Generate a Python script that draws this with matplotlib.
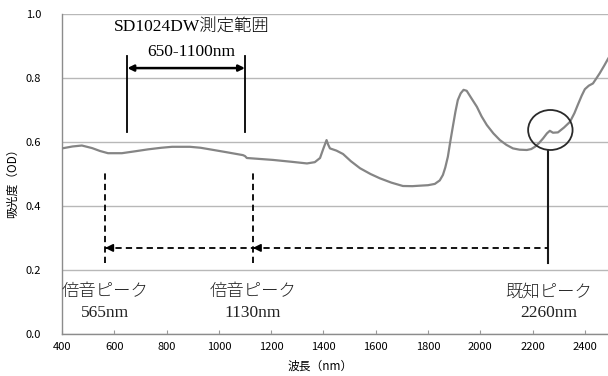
import matplotlib
matplotlib.use("Agg")
import matplotlib.pyplot as plt
from matplotlib.patches import Ellipse

plt.rcParams['lines.scale_dashes'] = False

# Absorbance spectrum
wavelength = [400, 440, 476, 515, 545, 576, 629, 680, 729, 780, 821, 889, 930, 966,
              1030, 1092, 1100, 1107, 1207, 1280, 1337, 1367, 1387, 1400, 1412, 1418,
              1425, 1450, 1475, 1505, 1540, 1580, 1616, 1660, 1704, 1740, 1769, 1800,
              1826, 1845, 1857, 1866, 1876, 1885, 1895, 1905, 1914, 1925, 1936, 1948,
              1965, 1987, 2005, 2025, 2050, 2075, 2100, 2125, 2150, 2178, 2195, 2209,
              2225, 2240, 2255, 2266, 2278, 2297, 2320, 2343, 2360, 2373, 2388, 2400,
              2415, 2431, 2445, 2457, 2475, 2488, 2500]
absorbance = [0.580, 0.586, 0.589, 0.581, 0.572, 0.565, 0.565, 0.571, 0.577, 0.582,
              0.585, 0.585, 0.582, 0.577, 0.568, 0.559, 0.556, 0.550, 0.544, 0.538,
              0.533, 0.537, 0.550, 0.580, 0.606, 0.592, 0.580, 0.573, 0.5625, 0.540,
              0.518, 0.500, 0.4865, 0.473, 0.4625, 0.462, 0.4635, 0.465, 0.469, 0.480,
              0.497, 0.520, 0.554, 0.600, 0.648, 0.695, 0.731, 0.752, 0.763, 0.760,
              0.738, 0.710, 0.680, 0.653, 0.627, 0.606, 0.591, 0.580, 0.576, 0.575,
              0.578, 0.585, 0.597, 0.611, 0.627, 0.635, 0.629, 0.630, 0.645, 0.663,
              0.690, 0.716, 0.745, 0.765, 0.776, 0.783, 0.800, 0.815, 0.840, 0.859,
              0.875]

x_ticks = [400, 600, 800, 1000, 1200, 1400, 1600, 1800, 2000, 2200, 2400]
y_ticks = [0.0, 0.2, 0.4, 0.6, 0.8, 1.0]

range_lo, range_hi = 650, 1100      # SD1024DW measuring range (nm)
known_peak = 2260                   # known absorption peak (nm)
overtone_1 = 1130                   # 2nd overtone (nm)
overtone_2 = 565                    # 3rd overtone (nm)

serif_jp = ['Liberation Serif', 'Noto Sans CJK JP']
gothic = ['Noto Sans CJK JP', 'DejaVu Sans']

fig = plt.figure(figsize=(6.08, 3.76), dpi=100)
ax = fig.add_axes([62 / 608, 42 / 376, 549 / 608, 320 / 376])

ax.plot(wavelength, absorbance, color='#858585', lw=1.6, zorder=3, solid_joinstyle='round')

ax.set_xlim(400, 2500)
ax.set_ylim(0, 1.0)
ax.set_xticks(x_ticks)
ax.set_yticks(y_ticks)
ax.set_xticklabels([str(t) for t in x_ticks], family=gothic, fontsize=8)
ax.set_yticklabels([f"{t:.1f}" for t in y_ticks], family=gothic, fontsize=8)
ax.tick_params(axis='x', direction='in', length=3, color='#999999', pad=6)
ax.tick_params(axis='y', length=0, pad=15)
ax.grid(axis='y', color='#b8b8b8', lw=1.0)
ax.set_axisbelow(True)
for side in ('top', 'right'):
    ax.spines[side].set_visible(False)
for side in ('left', 'bottom'):
    ax.spines[side].set_color('#8c8c8c')
    ax.spines[side].set_linewidth(1.0)

ax.set_xlabel('波長（nm）', family=gothic, fontsize=8.5)
ax.xaxis.set_label_coords(0.47, -0.08)
ax.set_ylabel('吸光度（OD）', family=gothic, fontsize=8.5)
ax.yaxis.set_label_coords(-0.078, 0.48)

# Measuring range bracket
for xv in (range_lo, range_hi):
    ax.plot([xv, xv], [0.63, 0.869], color='black', lw=1.3, zorder=4)
ax.annotate('', xy=(range_lo, 0.831), xytext=(range_hi, 0.831),
            arrowprops=dict(arrowstyle='<|-|>', color='black', lw=1.8,
                            mutation_scale=9, shrinkA=0, shrinkB=0), zorder=4)
ax.text(895, 0.956, 'SD1024DW測定範囲', family=serif_jp, fontsize=12.5,
        fontweight='light', ha='center', va='center')
ax.text(895, 0.881, f'{range_lo}-{range_hi}nm', family=serif_jp, fontsize=12.5,
        ha='center', va='center')

# Known peak marker
ax.add_patch(Ellipse((2268, 0.6375), width=170, height=0.125, fill=False,
                     edgecolor='#2a2a2a', lw=1.3, zorder=5))
ax.plot([known_peak, known_peak], [0.222, 0.575], color='#1a1a1a', lw=1.5, zorder=4)

# Overtone lines and arrows
arrow_y = 0.269
dash = dict(color='black', lw=1.3, dashes=(4.5, 3.0), zorder=4)
for xv in (overtone_1, overtone_2):
    ax.plot([xv, xv], [0.222, 0.503], **dash)
ax.plot([overtone_1, known_peak], [arrow_y, arrow_y], **dash)
ax.plot([overtone_2, overtone_1], [arrow_y, arrow_y], **dash)
for tip in (overtone_1, overtone_2):
    ax.annotate('', xy=(tip, arrow_y), xytext=(tip + 28, arrow_y),
                arrowprops=dict(arrowstyle='-|>', color='black', lw=1.3,
                                mutation_scale=11, shrinkA=0, shrinkB=0), zorder=5)

labels = [(overtone_2, '倍音ピーク', f'{overtone_2}nm'),
          (overtone_1, '倍音ピーク', f'{overtone_1}nm'),
          (known_peak, '既知ピーク', f'{known_peak}nm')]
for xv, name, val in labels:
    ax.text(xv, 0.130, name, family=serif_jp, fontsize=12.5, fontweight='light',
            ha='center', va='center', color='#222222')
    ax.text(xv, 0.066, val, family=serif_jp, fontsize=12.5, ha='center', va='center',
            color='#222222')

fig.savefig('out.png', dpi=100)
